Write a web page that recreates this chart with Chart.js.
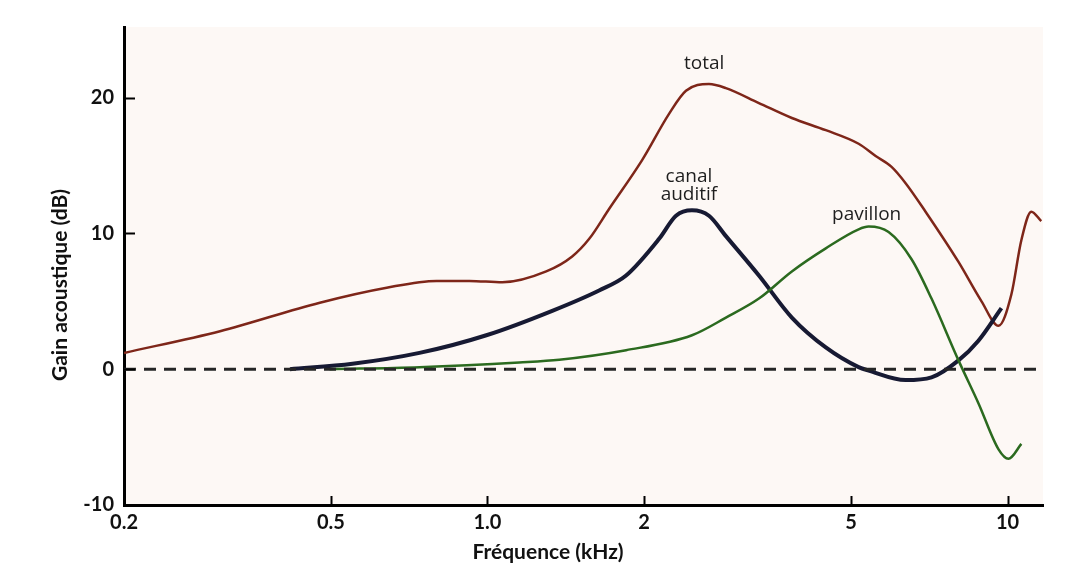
<!DOCTYPE html>
<html lang="fr">
<head>
<meta charset="utf-8">
<title>Gain acoustique</title>
<script src="https://cdn.jsdelivr.net/npm/chart.js@4.4.1/dist/chart.umd.min.js"></script>
<style>
  html, body { margin: 0; padding: 0; background: #fff; }
  #chart { display: block; }
</style>
</head>
<body>
<canvas id="chart" width="1084" height="585"></canvas>
<script>
// Axis ticks
const xTicks = [0.2, 0.5, 1, 2, 5, 10];
const xTickLabels = ['0.2', '0.5', '1.0', '2', '5', '10'];
const yTicks = [-10, 0, 10, 20];
const xMin = 0.2;
const xMax = 11.7;

// Total (kHz / dB)
const totalFreq = [0.2, 0.306, 0.476, 0.64, 0.798, 0.923, 1.068, 1.297, 1.455, 1.569, 1.713, 1.983, 2.234, 2.408, 2.666, 2.874, 3.326, 3.848, 4.472, 5.172, 5.576, 5.984, 6.368, 6.956, 8.048, 8.912, 9.61, 10.17, 10.63, 11.11, 11.61];
const totalGain = [1.2, 2.8, 4.9, 6.0, 6.5, 6.5, 6.4, 7.2, 8.3, 9.6, 11.8, 15.4, 18.8, 20.5, 21.0, 20.7, 19.6, 18.5, 17.6, 16.6, 15.7, 14.9, 13.7, 11.6, 7.9, 5.0, 3.2, 5.5, 9.5, 11.6, 10.9];

// Canal auditif
const canalFreq = [0.417, 0.55, 0.74, 0.995, 1.332, 1.639, 1.847, 2.138, 2.304, 2.473, 2.666, 2.874, 3.326, 3.848, 4.472, 5.172, 5.406, 6.368, 7.142, 8.048, 8.79, 9.733];
const canalGain = [0, 0.4, 1.2, 2.5, 4.3, 5.8, 6.9, 9.6, 11.3, 11.7, 11.3, 9.8, 6.9, 3.8, 1.6, 0.15, -0.1, -0.8, -0.6, 0.65, 2.1, 4.5];

// Pavillon
const pavillonFreq = [0.497, 0.74, 1.151, 1.374, 1.847, 2.473, 2.874, 3.326, 3.848, 4.472, 5.172, 5.406, 5.906, 6.538, 7.142, 8.048, 8.79, 9.61, 10.04, 10.63];
const pavillonGain = [0, 0.15, 0.5, 0.7, 1.4, 2.5, 3.8, 5.2, 7.2, 8.9, 10.3, 10.5, 10.1, 8.1, 5.2, 0.65, -2.5, -5.9, -6.6, -5.5];

// Curve labels
const labelTexts = [['total'], ['canal', 'auditif'], ['pavillon']];
const labelFreq = [2.61, 2.44, 5.36];
const labelGain = [22.5, 13.5, 11.4];

function toPoints(freq, gain) {
    return freq.map((f, i) => ({ x: f, y: gain[i] }));
}

// Light background of the plot area
const plotBackground = {
    id: 'plotBackground',
    beforeDraw(chart) {
        const { ctx, chartArea } = chart;
        ctx.save();
        ctx.fillStyle = '#ffffff';
        ctx.fillRect(0, 0, chart.width, chart.height);
        ctx.fillStyle = '#fdf8f5';
        ctx.fillRect(chartArea.left, chartArea.top, chartArea.right - chartArea.left, chartArea.bottom - chartArea.top);
        ctx.restore();
    }
};

// Inner tick marks, curve labels and axis titles
const decorations = {
    id: 'decorations',
    afterDraw(chart) {
        const { ctx, chartArea, scales: { x, y } } = chart;
        ctx.save();
        ctx.strokeStyle = '#000';
        ctx.lineWidth = 2;
        xTicks.forEach(v => {
            const px = Math.round(x.getPixelForValue(v)) + 0.5;
            ctx.beginPath();
            ctx.moveTo(px, chartArea.bottom);
            ctx.lineTo(px, chartArea.bottom - 9);
            ctx.stroke();
        });
        yTicks.forEach(v => {
            const py = Math.round(y.getPixelForValue(v)) + 0.5;
            ctx.beginPath();
            ctx.moveTo(chartArea.left, py);
            ctx.lineTo(chartArea.left + 11, py);
            ctx.stroke();
        });

        ctx.fillStyle = '#1e1e1e';
        ctx.font = '19px "Open Sans"';
        ctx.textAlign = 'center';
        ctx.textBaseline = 'middle';
        labelTexts.forEach((lines, i) => {
            const cx = x.getPixelForValue(labelFreq[i]);
            const cy = y.getPixelForValue(labelGain[i]);
            lines.forEach((line, j) => {
                ctx.fillText(line, cx, cy + (j - (lines.length - 1) / 2) * 18);
            });
        });

        ctx.fillStyle = '#111';
        ctx.font = 'bold 21px Lato';
        ctx.fillText('Fréquence (kHz)', 548, 552);
        ctx.translate(60, 285);
        ctx.rotate(-Math.PI / 2);
        ctx.fillText('Gain acoustique (dB)', 0, 0);
        ctx.restore();
    }
};

// Create the line chart
const ctx = document.getElementById('chart').getContext('2d');
new Chart(ctx, {
    type: 'line',
    data: {
        datasets: [
            {
                label: 'zéro',
                data: [{ x: xMin, y: 0 }, { x: xMax, y: 0 }],
                borderColor: '#262626',
                borderWidth: 3,
                borderDash: [12, 8],
                pointRadius: 0
            },
            {
                label: 'pavillon',
                data: toPoints(pavillonFreq, pavillonGain),
                borderColor: '#2b6a1f',
                borderWidth: 2.5,
                cubicInterpolationMode: 'monotone',
                pointRadius: 0
            },
            {
                label: 'canal auditif',
                data: toPoints(canalFreq, canalGain),
                borderColor: '#171a33',
                borderWidth: 4,
                cubicInterpolationMode: 'monotone',
                pointRadius: 0
            },
            {
                label: 'total',
                data: toPoints(totalFreq, totalGain),
                borderColor: '#7e2619',
                borderWidth: 2.5,
                cubicInterpolationMode: 'monotone',
                pointRadius: 0
            }
        ]
    },
    options: {
        responsive: false,
        animation: false,
        layout: { padding: { top: 27, right: 41, left: 0, bottom: 0 } },
        plugins: {
            legend: { display: false },
            tooltip: { enabled: false }
        },
        scales: {
            x: {
                type: 'logarithmic',
                min: xMin,
                max: xMax,
                afterBuildTicks: scale => {
                    scale.ticks = xTicks.map(v => ({ value: v }));
                },
                afterFit: scale => { scale.height = 80; },
                ticks: {
                    autoSkip: false,
                    maxRotation: 0,
                    padding: 6,
                    color: '#111',
                    font: { family: 'Lato', size: 20, weight: 'bold' },
                    callback: value => xTickLabels[xTicks.indexOf(value)]
                },
                grid: { display: false, drawTicks: false },
                border: { display: true, color: '#000', width: 3 }
            },
            y: {
                min: -10,
                max: 25.2,
                afterBuildTicks: scale => {
                    scale.ticks = yTicks.map(v => ({ value: v }));
                },
                afterFit: scale => { scale.width = 124; },
                ticks: {
                    padding: 10,
                    color: '#111',
                    font: { family: 'Lato', size: 20, weight: 'bold' }
                },
                grid: { display: false, drawTicks: false },
                border: { display: true, color: '#000', width: 3 }
            }
        }
    },
    plugins: [plotBackground, decorations]
});
</script>
</body>
</html>
